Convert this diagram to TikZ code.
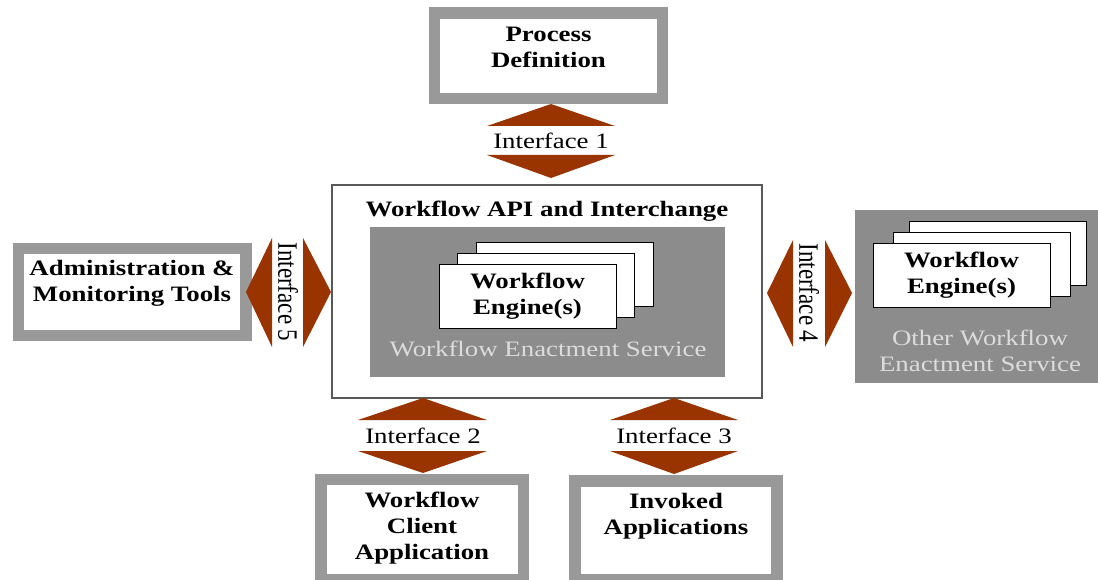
\documentclass[tikz,border=0pt]{standalone}
\usepackage{fontspec}
\setmainfont{Liberation Serif}[FakeStretch=1.22]
\newfontfamily\plainserif{Liberation Serif}
\usepackage{graphicx}
\definecolor{brd}{HTML}{999999}
\definecolor{svc}{HTML}{8C8C8C}
\definecolor{arr}{HTML}{993300}
\definecolor{svctext}{HTML}{DCDCDC}
\begin{document}
\begin{tikzpicture}[x=1pt,y=-1pt,
 graybox/.style={draw=brd,line width=11.5pt,fill=white,inner sep=0pt},
 engbox/.style={draw=black,line width=0.9pt,fill=white,minimum width=177pt,minimum height=64pt,inner sep=0pt},
 svcbox/.style={fill=svc,draw=none,inner sep=0pt},
 btxt/.style={font=\fontsize{22}{26}\selectfont\bfseries,align=center,inner sep=0pt},
 rtxt/.style={font=\fontsize{22}{26}\selectfont,align=center,inner sep=0pt},
 stxt/.style={rtxt,text=svctext},
 ifarrow/.style={fill=arr,draw=none},
]
\clip (0,0) rectangle (1098,580);
\fill[white] (0,0) rectangle (1098,580);

% outer boxes with thick gray borders
\node[graybox,minimum width=228pt,minimum height=85.5pt] (pd) at (548.5,55.75) {};
\node[btxt] (pdt) at (548.5,47) {Process\\Definition};

\node[graybox,minimum width=227.5pt,minimum height=86.5pt] (adm) at (132,292) {};
\node[btxt] (admt) at (132,283) {Administration \&\\Monitoring Tools};

\node[graybox,minimum width=202.5pt,minimum height=100pt] (cli) at (422,529.5) {};
\node[btxt] (clit) at (422,528) {Workflow\\Client\\Application};

\node[graybox,minimum width=202pt,minimum height=99pt] (inv) at (676,530.5) {};
\node[btxt] (invt) at (676,516) {Invoked\\Applications};

% main box
\node[draw=black!65,line width=1.2pt,fill=white,minimum width=430pt,minimum height=213pt,inner sep=0pt] (api) at (547,291.5) {};
\node[btxt] (apit) at (547,211) {Workflow API and Interchange};
\node[svcbox,minimum width=355pt,minimum height=150pt] (wes) at (547.5,302) {};
\node[engbox] (e3) at (565,274.5) {};
\node[engbox] (e2) at (546,285) {};
\node[engbox] (e1) at (527.5,296) {};
\node[btxt] (e1t) at (e1.center) {Workflow\\Engine(s)};
\node[stxt] (west) at (548,349) {Workflow Enactment Service};

% other enactment service
\node[svcbox,minimum width=250pt,minimum height=173pt] (owes) at (980,296.5) {};
\node[engbox] (o3) at (998,253.5) {};
\node[engbox] (o2) at (981.5,264.5) {};
\node[engbox] (o1) at (961.5,275) {};
\node[btxt] (o1t) at (o1.center) {Workflow\\Engine(s)};
\node[stxt] (owest) at (980,350.5) {Other Workflow\\Enactment Service};

% Interface 1
\node[rtxt] (if1) at (551,141) {Interface 1};
\fill[ifarrow] (487,126) -- (615,126) -- (551,104) -- cycle;
\fill[ifarrow] (487,155) -- (615,155) -- (551,178) -- cycle;

% Interface 2
\node[rtxt] (if2) at (423,436) {Interface 2};
\fill[ifarrow] (358,420) -- (487,420) -- (423,398) -- cycle;
\fill[ifarrow] (358,451) -- (487,451) -- (423,473) -- cycle;

% Interface 3
\node[rtxt] (if3) at (674,436) {Interface 3};
\fill[ifarrow] (610,420) -- (738,420) -- (674,398) -- cycle;
\fill[ifarrow] (610,451) -- (738,451) -- (674,474) -- cycle;

% Interface 5
\node[inner sep=0pt] (if5) at (288,292) {\scalebox{1.22}[1]{\rotatebox{-90}{\plainserif\fontsize{23}{26}\selectfont Interface 5}}};
\fill[ifarrow] (272,238) -- (272,347) -- (246,292) -- cycle;
\fill[ifarrow] (303,238) -- (303,347) -- (331,292) -- cycle;

% Interface 4
\node[inner sep=0pt] (if4) at (809,293) {\scalebox{1.22}[1]{\rotatebox{-90}{\plainserif\fontsize{23}{26}\selectfont Interface 4}}};
\fill[ifarrow] (793,240) -- (793,347) -- (767,293) -- cycle;
\fill[ifarrow] (825,240) -- (825,347) -- (852,293) -- cycle;
\end{tikzpicture}
\end{document}
